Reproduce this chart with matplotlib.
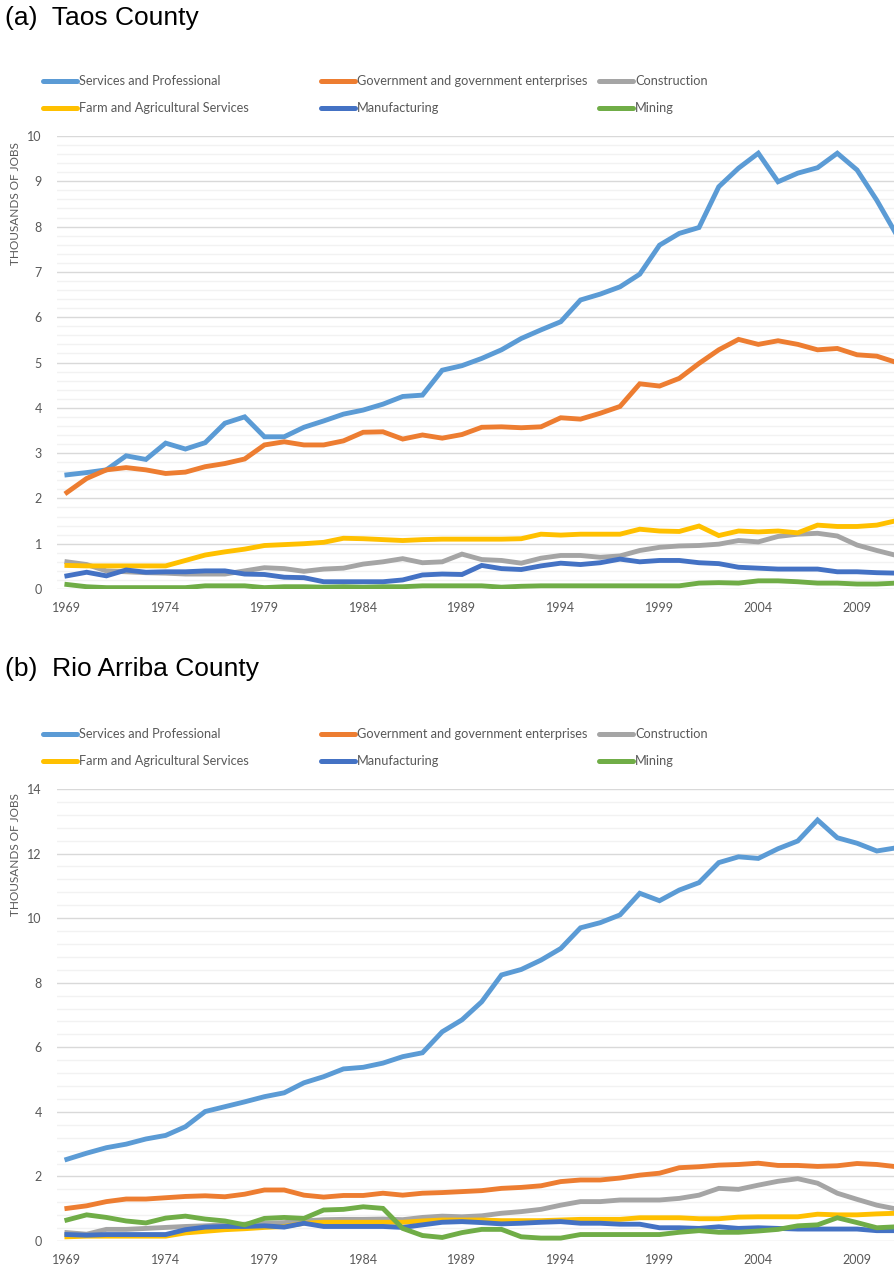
"""Employment by sector, Taos and Rio Arriba counties."""
import matplotlib

matplotlib.use("Agg")
import matplotlib.pyplot as plt  # noqa: E402
from matplotlib.lines import Line2D  # noqa: E402
from matplotlib.ticker import MultipleLocator  # noqa: E402

years = list(range(1969, 2012))

series_names = [
    "Services and Professional",
    "Government and government enterprises",
    "Construction",
    "Farm and Agricultural Services",
    "Manufacturing",
    "Mining",
]
colors = ["#5B9BD5", "#ED7D31", "#A5A5A5", "#FFC000", "#4472C4", "#70AD47"]

# Taos County (thousands of jobs)
taos_services = [2.52, 2.57, 2.63, 2.94, 2.86, 3.22, 3.09, 3.23, 3.66, 3.80,
                 3.36, 3.36, 3.57, 3.71, 3.86, 3.95, 4.08, 4.25, 4.28, 4.83,
                 4.93, 5.09, 5.28, 5.53, 5.72, 5.90, 6.38, 6.51, 6.67, 6.95,
                 7.59, 7.85, 7.98, 8.88, 9.29, 9.62, 8.99, 9.18, 9.30, 9.62,
                 9.25, 8.58, 7.82]
taos_government = [2.13, 2.44, 2.63, 2.68, 2.63, 2.55, 2.58, 2.70, 2.77, 2.87,
                   3.18, 3.25, 3.18, 3.18, 3.27, 3.46, 3.47, 3.31, 3.40, 3.33,
                   3.41, 3.57, 3.58, 3.56, 3.58, 3.78, 3.75, 3.88, 4.03, 4.53,
                   4.48, 4.65, 4.98, 5.28, 5.51, 5.40, 5.48, 5.40, 5.28, 5.31,
                   5.17, 5.14, 5.00]
taos_construction = [0.60, 0.54, 0.40, 0.38, 0.36, 0.35, 0.33, 0.33, 0.33, 0.40,
                     0.47, 0.45, 0.39, 0.44, 0.46, 0.55, 0.60, 0.67, 0.58, 0.60,
                     0.77, 0.65, 0.63, 0.57, 0.68, 0.74, 0.74, 0.70, 0.73, 0.85,
                     0.92, 0.95, 0.96, 0.99, 1.07, 1.04, 1.16, 1.21, 1.23, 1.17,
                     0.97, 0.85, 0.74]
taos_farm = [0.52, 0.51, 0.51, 0.51, 0.51, 0.51, 0.63, 0.75, 0.82, 0.88,
             0.96, 0.98, 1.00, 1.03, 1.12, 1.11, 1.09, 1.07, 1.09, 1.10,
             1.10, 1.10, 1.10, 1.11, 1.21, 1.19, 1.21, 1.21, 1.21, 1.32,
             1.28, 1.27, 1.39, 1.18, 1.28, 1.26, 1.28, 1.24, 1.41, 1.38,
             1.38, 1.41, 1.51]
taos_manufacturing = [0.29, 0.37, 0.29, 0.42, 0.37, 0.38, 0.38, 0.40, 0.40, 0.33,
                      0.32, 0.26, 0.25, 0.16, 0.16, 0.16, 0.16, 0.20, 0.31, 0.33,
                      0.32, 0.52, 0.45, 0.43, 0.51, 0.57, 0.54, 0.58, 0.66, 0.60,
                      0.63, 0.63, 0.58, 0.56, 0.48, 0.46, 0.44, 0.44, 0.44, 0.38,
                      0.38, 0.36, 0.35]
taos_mining = [0.10, 0.05, 0.03, 0.03, 0.03, 0.03, 0.03, 0.07, 0.07, 0.07,
               0.03, 0.05, 0.05, 0.04, 0.05, 0.04, 0.05, 0.05, 0.07, 0.07,
               0.07, 0.07, 0.04, 0.06, 0.07, 0.07, 0.07, 0.07, 0.07, 0.07,
               0.07, 0.07, 0.13, 0.14, 0.13, 0.18, 0.18, 0.16, 0.13, 0.13,
               0.11, 0.11, 0.13]

# Rio Arriba County (thousands of jobs)
rio_services = [2.53, 2.72, 2.89, 3.00, 3.16, 3.27, 3.54, 4.01, 4.16, 4.31,
                4.47, 4.59, 4.90, 5.09, 5.33, 5.38, 5.51, 5.71, 5.83, 6.48,
                6.85, 7.41, 8.24, 8.41, 8.70, 9.06, 9.70, 9.86, 10.10, 10.77,
                10.54, 10.87, 11.10, 11.72, 11.90, 11.85, 12.15, 12.39, 13.04, 12.49,
                12.32, 12.08, 12.18]
rio_government = [1.01, 1.09, 1.22, 1.30, 1.30, 1.34, 1.38, 1.40, 1.37, 1.45,
                  1.58, 1.58, 1.42, 1.36, 1.41, 1.41, 1.48, 1.42, 1.48, 1.50,
                  1.53, 1.56, 1.63, 1.66, 1.71, 1.84, 1.89, 1.89, 1.95, 2.04,
                  2.10, 2.27, 2.30, 2.35, 2.37, 2.41, 2.34, 2.34, 2.31, 2.33,
                  2.40, 2.37, 2.30]
rio_construction = [0.26, 0.21, 0.36, 0.36, 0.39, 0.42, 0.45, 0.47, 0.50, 0.52,
                    0.55, 0.57, 0.62, 0.66, 0.67, 0.67, 0.68, 0.66, 0.73, 0.77,
                    0.75, 0.78, 0.86, 0.91, 0.98, 1.11, 1.22, 1.22, 1.27, 1.27,
                    1.27, 1.32, 1.42, 1.63, 1.60, 1.73, 1.85, 1.93, 1.79, 1.48,
                    1.29, 1.11, 0.99]
rio_farm = [0.13, 0.15, 0.15, 0.15, 0.15, 0.15, 0.25, 0.30, 0.35, 0.38,
            0.42, 0.45, 0.55, 0.58, 0.58, 0.58, 0.58, 0.58, 0.62, 0.65,
            0.65, 0.65, 0.63, 0.63, 0.63, 0.65, 0.67, 0.67, 0.67, 0.72,
            0.72, 0.72, 0.69, 0.69, 0.74, 0.75, 0.75, 0.75, 0.83, 0.81,
            0.81, 0.84, 0.86]
rio_manufacturing = [0.20, 0.18, 0.20, 0.20, 0.20, 0.20, 0.35, 0.43, 0.45, 0.45,
                     0.47, 0.43, 0.55, 0.45, 0.45, 0.45, 0.45, 0.42, 0.50, 0.58,
                     0.60, 0.57, 0.53, 0.55, 0.58, 0.60, 0.55, 0.55, 0.52, 0.52,
                     0.41, 0.41, 0.39, 0.44, 0.39, 0.41, 0.39, 0.37, 0.37, 0.37,
                     0.37, 0.32, 0.32]
rio_mining = [0.65, 0.81, 0.73, 0.62, 0.56, 0.71, 0.77, 0.68, 0.62, 0.50,
              0.70, 0.73, 0.70, 0.96, 0.98, 1.06, 1.01, 0.39, 0.17, 0.11,
              0.26, 0.36, 0.36, 0.13, 0.09, 0.09, 0.20, 0.20, 0.20, 0.20,
              0.20, 0.27, 0.32, 0.27, 0.27, 0.31, 0.36, 0.47, 0.50, 0.72,
              0.57, 0.41, 0.44]

taos = [taos_services, taos_government, taos_construction,
        taos_farm, taos_manufacturing, taos_mining]
rio = [rio_services, rio_government, rio_construction,
       rio_farm, rio_manufacturing, rio_mining]

W, H = 894, 1265
FONT = "Lato"
TXT = "#595959"


def fx(px):
    return px / W


def fy(py):
    return 1 - py / H


def draw_panel(fig, data, title, title_y, legend_y, ax_top, ax_bot, ymax, major, minor, ylabel_y):
    fig.text(fx(5), fy(title_y), title, fontsize=19, family="Liberation Sans",
             color="#000000", va="center", ha="left")
    # legend: three equal-width columns, like the spreadsheet chart
    col_x = [43, 321, 599]
    row_y = [legend_y, legend_y + 27]
    for i, (name, c) in enumerate(zip(series_names, colors)):
        x0 = col_x[i % 3]
        y0 = row_y[i // 3]
        fig.add_artist(Line2D([fx(x0), fx(x0 + 34)], [fy(y0), fy(y0)], color=c,
                              lw=3.6, solid_capstyle="round", transform=fig.transFigure))
        fig.text(fx(x0 + 36), fy(y0), name, fontsize=9.2, family=FONT, color=TXT,
                 va="center", ha="left")

    left = 57
    ax = fig.add_axes([fx(left), fy(ax_bot), 1 - fx(left), (ax_bot - ax_top) / H])
    for vals, c in zip(data, colors):
        ax.plot(years, vals, color=c, lw=3.5, solid_joinstyle="miter")
    ax.set_xlim(1968.5, 2010.87)
    ax.set_ylim(0, ymax)
    ax.yaxis.set_major_locator(MultipleLocator(major))
    ax.yaxis.set_minor_locator(MultipleLocator(minor))
    ax.set_xticks(list(range(1969, 2011, 5)))
    ax.grid(axis="y", which="major", color="#d9d9d9", lw=1.0)
    ax.grid(axis="y", which="minor", color="#f2f2f2", lw=1.0)
    ax.set_axisbelow(True)
    for s in ax.spines.values():
        s.set_visible(False)
    ax.tick_params(axis="both", which="both", length=0, labelsize=9, labelcolor=TXT)
    ax.tick_params(axis="y", pad=11)
    ax.tick_params(axis="x", pad=9)
    for lab in ax.get_xticklabels() + ax.get_yticklabels():
        lab.set_family(FONT)
    fig.text(fx(16), fy(ylabel_y), "THOUSANDS OF JOBS", rotation=90, fontsize=8.5,
             family=FONT, color=TXT, va="center", ha="center")
    return ax


fig = plt.figure(figsize=(W / 100, H / 100), dpi=100)
draw_panel(fig, taos, "(a)  Taos County", 18, 81, 136, 589, 10, 1, 0.2, 204)
draw_panel(fig, rio, "(b)  Rio Arriba County", 669, 734, 789, 1241, 14, 2, 0.4, 855)
fig.savefig("out.png", dpi=100)
